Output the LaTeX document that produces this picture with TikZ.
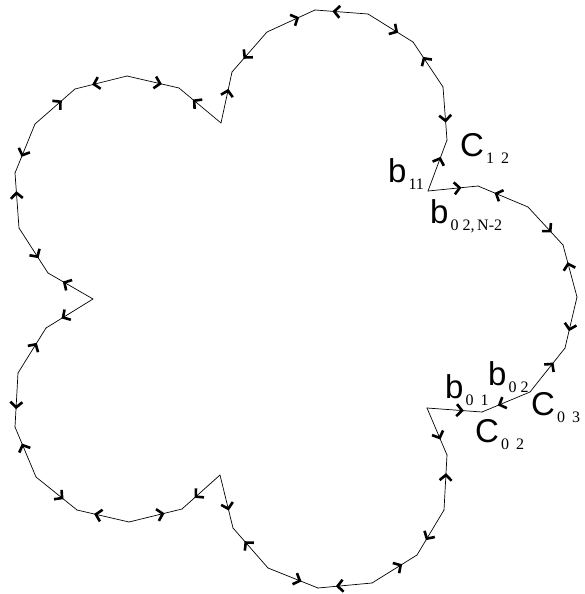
\documentclass[tikz,border=0pt]{standalone}
\usepackage{fontspec}
\setmainfont{Liberation Serif}
\setsansfont{Liberation Sans}
\usetikzlibrary{arrows.meta,decorations.markings}
\newcommand{\blab}[2]{{\fontsize{33}{33}\selectfont\sffamily #1}\hspace{2pt}\raisebox{-7pt}{\fontsize{16}{16}\selectfont #2}}
\begin{document}
\begin{tikzpicture}[x=1pt,y=-1pt,
    flow/.style={line width=0.7pt,line cap=round,postaction={decorate},
      decoration={markings,mark=at position 0.67 with {\arrow{Straight Barb[length=5.5pt,width=12pt,line width=2.6pt]}}}},
    lab/.style={anchor=base west,inner sep=0pt}]
    \useasboundingbox (0,0) rectangle (585,594);
    \foreach \x/\y [count=\i from 0] in {428/191,447/140,443/87,413/42,368/14,315/10,267/32,232/72,
        221/123,179/88,127/76,75/89,35/124,15/173,19/228,48/273,
        93/299,46/328,18/373,15/427,36/477,77/510,129/522,182/509,
        220/475,233/528,268/568,318/588,372/583,417/555,444/510,447/455,
        427/408,482/412,530/392,565/348,577/297,563/245,528/207,478/186}
        \coordinate (v\i) at (\x,\y);
    \foreach \i in {0,2,...,38}{
        \pgfmathtruncatemacro\nxt{\i+1}
        \pgfmathtruncatemacro\prv{mod(\i+39,40)}
        \draw[flow] (v\i) -- (v\nxt);
        \draw[flow] (v\i) -- (v\prv);
    }
    \node[lab] (c12) at (460,156) {\blab{C}{1\hspace{7pt}2}};
    \node[lab] (b11) at (388,182) {\blab{b}{11}};
    \node[lab] (b02n) at (430,223) {\blab{b}{0 2,\,N-2}};
    \node[lab] (b01) at (445,398) {\blab{b}{0\hspace{7pt}1}};
    \node[lab] (b02) at (488,385) {\blab{b}{0\hspace{4pt}2}};
    \node[lab] (c03) at (531,415) {\blab{C}{0\hspace{7pt}3}};
    \node[lab] (c02) at (475,442) {\blab{C}{0\hspace{7pt}2}};
\end{tikzpicture}
\end{document}
